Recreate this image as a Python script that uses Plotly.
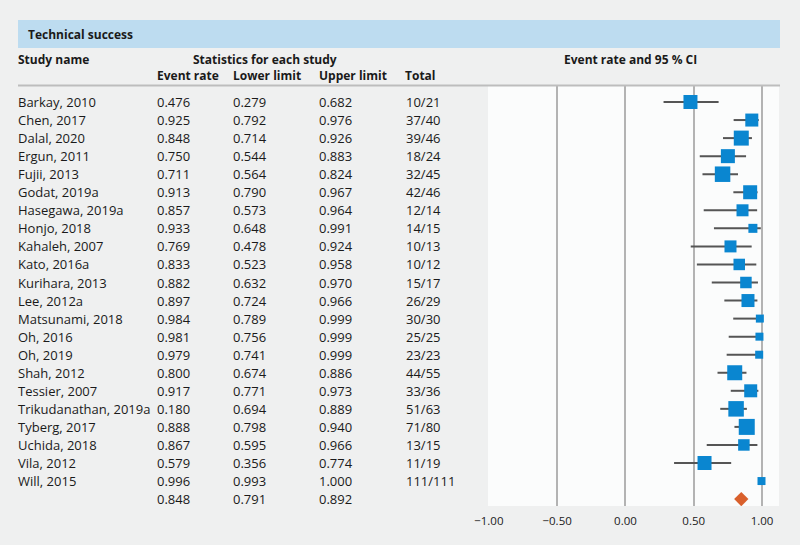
import plotly.graph_objects as go

studies = ["Barkay, 2010", "Chen, 2017", "Dalal, 2020", "Ergun, 2011", "Fujii, 2013",
           "Godat, 2019a", "Hasegawa, 2019a", "Honjo, 2018", "Kahaleh, 2007", "Kato, 2016a",
           "Kurihara, 2013", "Lee, 2012a", "Matsunami, 2018", "Oh, 2016", "Oh, 2019",
           "Shah, 2012", "Tessier, 2007", "Trikudanathan, 2019a", "Tyberg, 2017",
           "Uchida, 2018", "Vila, 2012", "Will, 2015"]
event_rate = [0.476, 0.925, 0.848, 0.750, 0.711, 0.913, 0.857, 0.933, 0.769, 0.833,
              0.882, 0.897, 0.984, 0.981, 0.979, 0.800, 0.917, 0.180, 0.888, 0.867,
              0.579, 0.996]
lower = [0.279, 0.792, 0.714, 0.544, 0.564, 0.790, 0.573, 0.648, 0.478, 0.523,
         0.632, 0.724, 0.789, 0.756, 0.741, 0.674, 0.771, 0.694, 0.798, 0.595,
         0.356, 0.993]
upper = [0.682, 0.976, 0.926, 0.883, 0.824, 0.967, 0.964, 0.991, 0.924, 0.958,
         0.970, 0.966, 0.999, 0.999, 0.999, 0.886, 0.973, 0.889, 0.940, 0.966,
         0.774, 1.000]
totals = ["10/21", "37/40", "39/46", "18/24", "32/45", "42/46", "12/14", "14/15", "10/13",
          "10/12", "15/17", "26/29", "30/30", "25/25", "23/23", "44/55", "33/36", "51/63",
          "71/80", "13/15", "11/19", "111/111"]
# The table prints 0.180 for Trikudanathan, but the plotted point sits at 51/63 = 0.81
plot_override = {"Trikudanathan, 2019a": 0.810}
weights = [14, 13, 15, 14, 15.5, 14, 12, 9, 12, 11.5, 11.5, 13, 8, 8, 8, 15, 13, 15.5,
           16, 11.5, 14, 8]
summary = {"rate": 0.848, "lower": 0.791, "upper": 0.892}
tick_vals = [-1.0, -0.5, 0.0, 0.5, 1.0]
tick_text = ["\u22121.00", "\u22120.50", "0.00", "0.50", "1.00"]

W, H = 800, 545
FONT = "Open Sans, Noto Sans, sans-serif"
TXT = "#1a1a1a"

n = len(studies)
rows = list(range(n))
plot_rate = [plot_override.get(s, r) for s, r in zip(studies, event_rate)]

fig = go.Figure()

# CI lines
fig.add_trace(go.Scatter(
    x=plot_rate, y=rows, mode="markers",
    marker=dict(size=0.1, color="rgba(0,0,0,0)"),
    error_x=dict(type="data", symmetric=False,
                 array=[u - r for u, r in zip(upper, plot_rate)],
                 arrayminus=[r - l for r, l in zip(plot_rate, lower)],
                 color="#555555", thickness=2, width=0),
    hoverinfo="skip", showlegend=False))
# Squares
fig.add_trace(go.Scatter(
    x=plot_rate, y=rows, mode="markers",
    marker=dict(symbol="square", size=weights, color="#0a86d0", opacity=1,
                line=dict(width=0)),
    showlegend=False))
# Summary diamond
fig.add_trace(go.Scatter(
    x=[summary["rate"]], y=[n], mode="markers",
    marker=dict(symbol="diamond", size=11, color="#d9602c", opacity=1, line=dict(width=0)),
    showlegend=False))

# geometry
px_m1, px_p1 = 488, 762
per = (px_p1 - px_m1) / 2.0
panel_l, panel_r = 488, 779
x0 = -1 - (px_m1 - panel_l) / per - 0.006
x1 = 1 + (panel_r - px_p1) / per
row0_px, pitch = 102, 18.05
top_px, bot_px = 86, 506
y_top = -(row0_px - top_px) / pitch
y_bot = (bot_px - row0_px) / pitch

fig.update_xaxes(range=[x0, x1], domain=[panel_l / W, panel_r / W], automargin=False,
                 tickvals=tick_vals, ticktext=tick_text, showgrid=True,
                 gridcolor="#b3b3b3", gridwidth=2, zeroline=False, showline=False,
                 ticks="", ticklabelstandoff=6,
                 tickfont=dict(family=FONT, size=11.5, color=TXT), fixedrange=True)
fig.update_yaxes(range=[y_bot, y_top], domain=[1 - bot_px / H, 1 - top_px / H],
                 automargin=False, showgrid=False, zeroline=False, showticklabels=False,
                 fixedrange=True)

shapes = [
    dict(type="rect", xref="paper", yref="paper", x0=18 / W, x1=780 / W,
         y0=1 - 48 / H, y1=1 - 20 / H, fillcolor="#bddcf0", line=dict(width=0), layer="below"),
    dict(type="line", xref="paper", yref="paper", x0=18 / W, x1=780 / W,
         y0=1 - 85.5 / H, y1=1 - 85.5 / H, line=dict(color="#bdbdbd", width=2)),
]

ann = []
def add(text, xpx, ypx, anchor="left", bold=False, yref="paper", yval=None):
    ann.append(dict(text=f"<b>{text}</b>" if bold else text, xref="paper",
                    x=xpx / W, xanchor=anchor, yref=yref,
                    y=(1 - ypx / H) if yref == "paper" else yval, yanchor="middle",
                    showarrow=False, borderpad=0,
                    font=dict(family=FONT, size=12 if bold else 13, color=TXT)))

add("Technical success", 27, 34, bold=True)
add("Study name", 17, 59.5, bold=True)
add("Statistics for each study", 265, 59.5, anchor="center", bold=True)
add("Event rate and 95 % CI", 630, 59.5, anchor="center", bold=True)
for t, xp in [("Event rate", 156), ("Lower limit", 232), ("Upper limit", 318), ("Total", 404)]:
    add(t, xp, 75.5, bold=True)

for i in rows:
    add(studies[i], 17, 0, yref="y", yval=i)
    add(f"{event_rate[i]:.3f}", 156, 0, yref="y", yval=i)
    add(f"{lower[i]:.3f}", 232, 0, yref="y", yval=i)
    add(f"{upper[i]:.3f}", 318, 0, yref="y", yval=i)
    add(totals[i], 405, 0, yref="y", yval=i)
add(f"{summary['rate']:.3f}", 156, 0, yref="y", yval=n)
add(f"{summary['lower']:.3f}", 232, 0, yref="y", yval=n)
add(f"{summary['upper']:.3f}", 318, 0, yref="y", yval=n)

fig.update_layout(width=W, height=H, margin=dict(l=0, r=0, t=0, b=0, pad=0, autoexpand=False),
                  paper_bgcolor="#eff0f0", plot_bgcolor="#fbfcfc",
                  shapes=shapes, annotations=ann, showlegend=False,
                  font=dict(family=FONT, color=TXT))

fig.write_html("out.html", config={"displayModeBar": False},
               post_script="document.body.style.margin='0';")
